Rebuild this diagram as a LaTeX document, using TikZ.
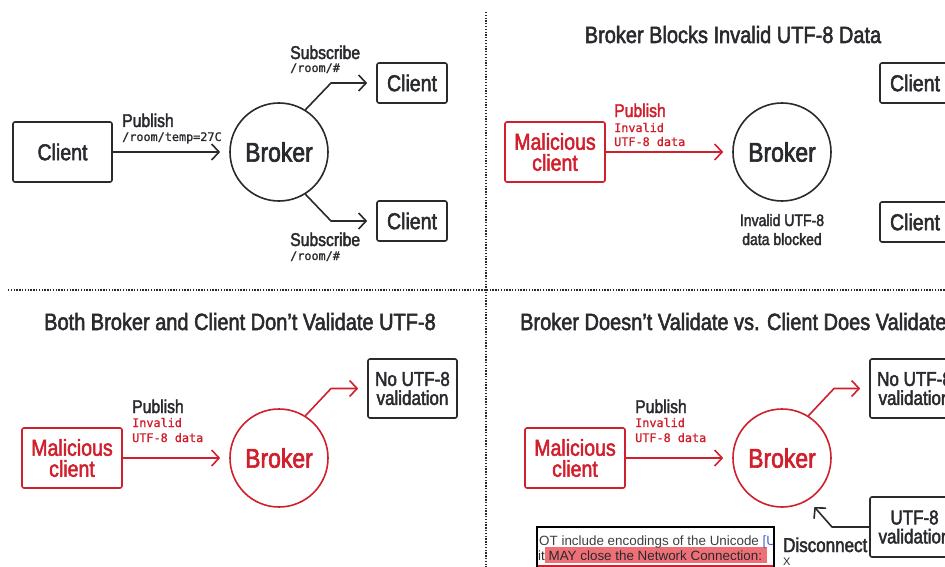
\documentclass[tikz,border=0pt]{standalone}
\usepackage{fontspec}
\setmainfont{Liberation Sans}[FakeStretch=0.85,FakeBold=2.2]
\newfontfamily\snipfont{Liberation Sans}
\newfontfamily\codefont{DejaVu Sans Mono}[FakeBold=1]
\usetikzlibrary{arrows.meta}
\definecolor{mred}{RGB}{208,32,45}
\definecolor{ink}{RGB}{40,42,46}
\definecolor{hl}{RGB}{238,112,118}
\definecolor{linkblue}{RGB}{70,100,205}
\tikzset{
  box/.style={draw=ink, line width=1.6pt, rounded corners=2pt, inner sep=0pt, align=center, text=ink, font=\fontsize{23}{21}\selectfont},
  rbox/.style={box, draw=mred, text=mred},
  vbox/.style={box, minimum width=89pt, minimum height=59pt, font=\fontsize{20}{19}\selectfont},
  bcirc/.style={circle, draw=ink, line width=1.6pt, minimum size=98pt, inner sep=0pt, text=ink, font=\fontsize{27}{27}\selectfont},
  rcirc/.style={bcirc, draw=mred, text=mred},
  arr/.style={-{Straight Barb[length=7.5pt,width=16pt]}, line width=1.6pt, line join=round, draw=ink},
  rarr/.style={arr, draw=mred},
  lbl/.style={anchor=base west, inner sep=0pt, text=ink, font=\fontsize{18.5}{20}\selectfont},
  code/.style={anchor=base west, inner sep=0pt, text=ink, font=\codefont\fontsize{11.8}{14}\selectfont},
  ttl/.style={anchor=base, inner sep=0pt, text=ink, font=\fontsize{23.5}{24}\selectfont},
  dots/.style={draw=ink, line width=1.6pt, dash pattern=on 1.3pt off 1.5pt},
}
\begin{document}
\begin{tikzpicture}[x=1pt,y=-1pt]
\useasboundingbox (0,0) rectangle (945,567);
\clip (0,0) rectangle (945,567);
\fill[white] (0,0) rectangle (945,567);
% dividers
\draw[dots] (486,12) -- (486,567);
\draw[dots] (8,290) -- (945,290);

% ---------- Panel 1 ----------
\node[box, minimum width=99pt, minimum height=60pt] (c0) at (62.5,152) {Client};
\node[bcirc] (b1) at (279,152) {Broker};
\node[box, minimum width=70pt, minimum height=40pt] (c1) at (412,83) {Client};
\node[box, minimum width=70pt, minimum height=40pt] (c2) at (412,221) {Client};
\draw[arr, shorten >=9pt] (c0.east) -- (b1.west);
\coordinate (k1) at (331,0);
\draw[arr, shorten >=9pt] (b1.58) -- (k1 |- c1.west) -- (c1.west);
\draw[arr, shorten >=9pt] (b1.-58) -- (k1 |- c2.west) -- (c2.west);
\node[lbl] (p1) at (122,127) {Publish};
\node[code] (p1c) at (122,141) {/room/temp=27C};
\node[lbl] (s1) at (290,59) {Subscribe};
\node[code] (s1c) at (290,72) {/room/\#};
\node[lbl] (s2) at (290,246) {Subscribe};
\node[code] (s2c) at (290,260) {/room/\#};

% ---------- Panel 2 ----------
\node[ttl] (t2) at (733,43) {Broker Blocks Invalid UTF-8 Data};
\node[rbox, minimum width=100pt, minimum height=60pt] (m2) at (555,152) {Malicious\\client};
\node[bcirc] (b2) at (782,152) {Broker};
\draw[rarr, shorten >=9pt] (m2.east) -- (b2.west);
\node[lbl, text=mred] (p2) at (614,117) {Publish};
\node[code, text=mred] (p2a) at (614,132) {Invalid};
\node[code, text=mred] (p2b) at (614,146) {UTF-8 data};
\node[lbl, anchor=base, font=\fontsize{16.5}{18}\selectfont] (ib1) at (782,226) {Invalid UTF-8};
\node[lbl, anchor=base, font=\fontsize{16.5}{18}\selectfont] (ib2) at (782,245) {data blocked};
\node[box, minimum width=70pt, minimum height=40pt] (c3) at (915,83) {Client};
\node[box, minimum width=70pt, minimum height=40pt] (c4) at (915,222) {Client};

% ---------- Panel 3 ----------
\node[ttl] (t3) at (240,330) {Both Broker and Client Don’t Validate UTF-8};
\node[rbox, minimum width=100pt, minimum height=60pt] (m3) at (72,458) {Malicious\\client};
\node[rcirc] (b3) at (279,458) {Broker};
\node[vbox] (n3) at (412.5,388.5) {No UTF-8\\validation};
\draw[rarr, shorten >=9pt] (m3.east) -- (b3.west);
\coordinate (k3) at (331,0);
\draw[rarr, shorten >=9pt] (b3.58) -- (k3 |- n3.west) -- (n3.west);
\node[lbl] (p3) at (132,413) {Publish};
\node[code, text=mred] (p3a) at (132,427) {Invalid};
\node[code, text=mred] (p3b) at (132,442) {UTF-8 data};

% ---------- Panel 4 ----------
\node[ttl, anchor=base west] (t4) at (520,330) {Broker Doesn’t Validate vs. Client Does Validate};
\node[rbox, minimum width=100pt, minimum height=60pt] (m4) at (575,458) {Malicious\\client};
\node[rcirc] (b4) at (782,458) {Broker};
\node[vbox] (n4) at (914.5,388.5) {No UTF-8\\validation};
\node[vbox, minimum height=60pt] (v4) at (914.5,527) {UTF-8\\validation};
\draw[rarr, shorten >=9pt] (m4.east) -- (b4.west);
\coordinate (k4) at (834,0);
\draw[rarr, shorten >=9pt] (b4.58) -- (k4 |- n4.west) -- (n4.west);
\coordinate (k5) at (832,0);
\draw[arr, shorten >=9pt] (v4.west) -- (k5 |- v4.west) -- (b4.-58);
\node[lbl] (p4) at (635,413) {Publish};
\node[code, text=mred] (p4a) at (635,427) {Invalid};
\node[code, text=mred] (p4b) at (635,442) {UTF-8 data};
\node[lbl, font=\fontsize{20}{20}\selectfont] (dc) at (783,552) {Disconnect};
\node[lbl, font=\snipfont\fontsize{11}{12}\selectfont] (dx) at (783,565) {X};

% snippet
\begin{scope}
\clip (537,527) rectangle (774,567);
\fill[hl] (545,547) rectangle (767,562.5);
\draw[mred, line width=1.5pt] (537,565.8) -- (774,565.8);
\node[anchor=base west, inner sep=0pt, text=ink!90, font=\snipfont\fontsize{13.4}{14}\selectfont] (sn1) at (539,545) {OT include encodings of the Unicode \textcolor{linkblue}{[U}};
\node[anchor=base west, inner sep=0pt, text=ink, font=\snipfont\fontsize{13.4}{14}\selectfont] (sn2) at (538,560) {it MAY close the Network Connection:};
\end{scope}
\draw[black, line width=1.4pt] (537,600) |- (774,527) -- (774,600);
\end{tikzpicture}
\end{document}
